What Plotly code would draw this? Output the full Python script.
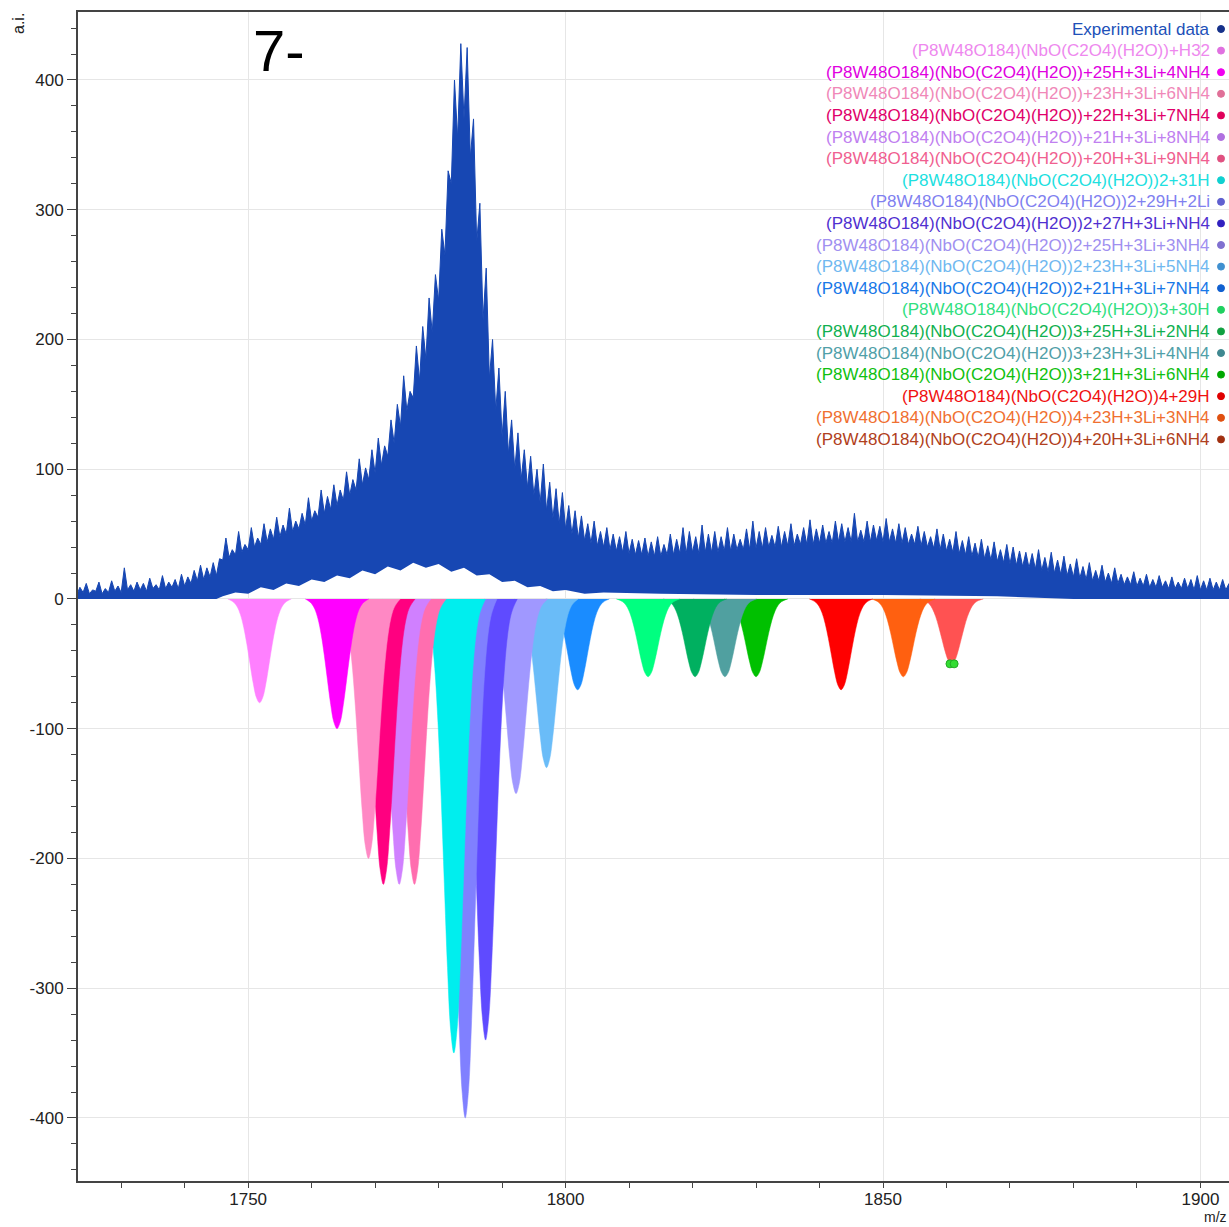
import plotly.graph_objects as go

# ---------------------------------------------------------------------------
# Experimental spectrum (7- charge state), described as a dense band:
# solid body level at integer m/z, spike tops half-way between, and the
# valley floor that the isotope pattern never dips below.
# ---------------------------------------------------------------------------
body_mz = list(range(1723, 1905))
body_ai = [
    3, 5, 4, 6, 4, 5, 6, 5, 7, 6,
    7, 6, 8, 7, 8, 9, 8, 10, 12, 14,
    15, 17, 18, 30, 32, 34, 36, 38, 40, 42,
    44, 46, 48, 50, 52, 54, 57, 60, 63, 66,
    69, 72, 76, 80, 84, 88, 92, 97, 103, 110,
    120, 133, 145, 155, 168, 185, 205, 230, 265, 320,
    355, 370, 340, 275, 215, 170, 145, 125, 112, 100,
    92, 86, 80, 74, 68, 62, 58, 54, 50, 47,
    45, 43, 41, 40, 38, 37, 36, 35, 34, 34,
    33, 33, 33, 34, 34, 35, 35, 36, 35, 36,
    36, 36, 37, 37, 38, 38, 38, 39, 39, 40,
    40, 40, 41, 41, 42, 42, 42, 43, 43, 43,
    44, 44, 44, 44, 44, 44, 45, 44, 44, 43,
    43, 42, 42, 41, 40, 39, 38, 37, 36, 35,
    34, 33, 32, 31, 30, 29, 28, 27, 26, 25,
    24, 23, 22, 21, 20, 19, 18, 17, 16, 15,
    14, 14, 13, 12, 12, 11, 11, 10, 10, 9,
    9, 9, 8, 8, 8, 8, 7, 7, 7, 7,
    7, 7,
]
spike_mz = [m + 0.5 for m in body_mz]
spike_ai = [
    9, 12, 7, 13, 8, 14, 10, 24, 11, 13,
    12, 16, 11, 18, 13, 15, 19, 17, 22, 26,
    24, 28, 31, 47, 38, 52, 42, 55, 47, 58,
    54, 63, 57, 70, 60, 66, 78, 68, 84, 79,
    88, 84, 98, 92, 108, 101, 115, 124, 118, 138,
    150, 172, 160, 195, 210, 232, 250, 285, 330, 400,
    428, 425, 370, 305, 255, 200, 178, 160, 138, 128,
    115, 110, 100, 104, 90, 85, 82, 72, 68, 64,
    58, 60, 52, 55, 50, 48, 52, 46, 45, 47,
    44, 48, 42, 50, 46, 55, 52, 48, 57, 50,
    52, 48, 55, 50, 46, 54, 60, 52, 55, 49,
    56, 52, 58, 50, 55, 61, 54, 57, 52, 60,
    58, 55, 66, 53, 60, 57, 56, 62, 54, 58,
    55, 50, 56, 52, 48, 54, 50, 46, 52, 45,
    48, 43, 46, 41, 44, 38, 42, 40, 37, 36,
    35, 38, 32, 36, 30, 33, 27, 31, 25, 28,
    22, 26, 20, 24, 19, 17, 21, 16, 19, 15,
    18, 14, 17, 13, 16, 15, 18, 14, 16, 13,
    15, 12,
]
valley_mz = [1723, 1745, 1746, 1748, 1750, 1752, 1754, 1756, 1758, 1760,
             1762, 1764, 1766, 1768, 1770, 1772, 1774, 1776, 1778, 1780,
             1782, 1784, 1786, 1788, 1790, 1792, 1794, 1796, 1798, 1800,
             1803, 1806, 1815, 1830, 1850, 1868, 1880, 1905]
valley_ai = [0, 0, 2, 5, 4, 9, 7, 12, 10, 15,
             13, 18, 16, 22, 19, 25, 22, 28, 24, 27,
             21, 24, 18, 19, 13, 14, 9, 10, 6, 7,
             4, 5, 4, 3, 3, 2, 0, 0]

# ---------------------------------------------------------------------------
# Simulated isotope envelopes (plotted downwards)
# ---------------------------------------------------------------------------
species = [
    "(P8W48O184)(NbO(C2O4)(H2O))+H32",
    "(P8W48O184)(NbO(C2O4)(H2O))+25H+3Li+4NH4",
    "(P8W48O184)(NbO(C2O4)(H2O))+23H+3Li+6NH4",
    "(P8W48O184)(NbO(C2O4)(H2O))+22H+3Li+7NH4",
    "(P8W48O184)(NbO(C2O4)(H2O))+21H+3Li+8NH4",
    "(P8W48O184)(NbO(C2O4)(H2O))+20H+3Li+9NH4",
    "(P8W48O184)(NbO(C2O4)(H2O))2+31H",
    "(P8W48O184)(NbO(C2O4)(H2O))2+29H+2Li",
    "(P8W48O184)(NbO(C2O4)(H2O))2+27H+3Li+NH4",
    "(P8W48O184)(NbO(C2O4)(H2O))2+25H+3Li+3NH4",
    "(P8W48O184)(NbO(C2O4)(H2O))2+23H+3Li+5NH4",
    "(P8W48O184)(NbO(C2O4)(H2O))2+21H+3Li+7NH4",
    "(P8W48O184)(NbO(C2O4)(H2O))3+30H",
    "(P8W48O184)(NbO(C2O4)(H2O))3+25H+3Li+2NH4",
    "(P8W48O184)(NbO(C2O4)(H2O))3+23H+3Li+4NH4",
    "(P8W48O184)(NbO(C2O4)(H2O))3+21H+3Li+6NH4",
    "(P8W48O184)(NbO(C2O4)(H2O))4+29H",
    "(P8W48O184)(NbO(C2O4)(H2O))4+23H+3Li+3NH4",
    "(P8W48O184)(NbO(C2O4)(H2O))4+20H+3Li+6NH4",
]
peak_mz = [1751.8, 1764.0, 1768.95, 1771.3, 1773.8, 1776.2, 1782.4, 1784.2,
           1787.4, 1792.2, 1797.0, 1801.9, 1813.0, 1820.4, 1825.1, 1830.0,
           1843.4, 1853.2, 1860.8]
peak_ai = [-80, -100, -200, -220, -220, -220, -350, -400, -340, -150, -130,
           -70, -60, -60, -60, -60, -70, -60, -50]

# relative envelope profile (offset in m/z, fraction of apex)
envelope_offset = [-5, -4.5, -4, -3.5, -3, -2.5, -2, -1.5, -1, -0.5, 0,
                   0.5, 1, 1.5, 2, 2.5, 3, 3.5, 4, 4.5, 5]
envelope_frac = [0, 0.015, 0.036, 0.078, 0.153, 0.272, 0.435, 0.626, 0.812, 0.949, 1,
                 0.949, 0.812, 0.626, 0.435, 0.272, 0.153, 0.078, 0.036, 0.015, 0]

# picked apex markers on the last envelope
marker_mz = [1860.55, 1861.2]
marker_ai = [-50, -50]

# axis ticks
y_ticks = [-400, -300, -200, -100, 0, 100, 200, 300, 400]
x_ticks = [1750, 1800, 1850, 1900]

# colours
exp_color = "#1747B3"
fill_colors = ["#FF80FF", "#FF00FF", "#FF88C4", "#FF0080", "#D080FF", "#FF6EAF",
               "#00EEEE", "#8080FF", "#5F4BFF", "#A098FF", "#6ABCF8", "#1A8CFF",
               "#00FF80", "#00B060", "#50A0A0", "#00C000", "#FF0000", "#FF6010",
               "#FF5252"]
text_colors = ["#EE88EE", "#E000E0", "#F088B8", "#E0006A", "#C080F0", "#F06090",
               "#20E0E0", "#8080F0", "#5030D0", "#A090F0", "#70B8F0", "#1878E8",
               "#30E080", "#10B050", "#50A0A8", "#10C010", "#F01010", "#F07030",
               "#B04020"]
dot_colors = ["#E070E0", "#F000F0", "#E07098", "#E0005A", "#B070E0", "#E05080",
              "#10D0D0", "#6060D0", "#3020C0", "#8070D0", "#4090D0", "#1060D0",
              "#20D060", "#10A040", "#408890", "#00A800", "#E00000", "#E05010",
              "#A03010"]

FONT = "Liberation Sans, Arial, sans-serif"

fig = go.Figure()

# theoretical envelopes: earlier species are drawn last so they sit on top
for i in range(len(species) - 1, -1, -1):
    xs = [peak_mz[i] + o for o in envelope_offset]
    ys = [peak_ai[i] * f for f in envelope_frac]
    fig.add_trace(go.Scatter(
        x=xs, y=ys, mode="lines", line=dict(color=fill_colors[i], width=0.5, shape="spline"),
        fill="tozeroy", fillcolor=fill_colors[i], name=species[i], showlegend=False,
        hoverinfo="skip"))

fig.add_trace(go.Scatter(
    x=marker_mz, y=marker_ai, mode="markers",
    marker=dict(size=8, color="#33DD33", line=dict(color="#22AA22", width=1)),
    showlegend=False, hoverinfo="skip"))

# experimental band: valley floor, then the spiky top filled down to it
upper_x, upper_y = [], []
for bx, by, sx, sy in zip(body_mz, body_ai, spike_mz, spike_ai):
    upper_x += [bx, sx]
    upper_y += [by, sy]

fig.add_trace(go.Scatter(
    x=valley_mz, y=valley_ai, mode="lines", line=dict(color=exp_color, width=0),
    showlegend=False, hoverinfo="skip"))
fig.add_trace(go.Scatter(
    x=upper_x, y=upper_y, mode="lines", line=dict(color=exp_color, width=1),
    fill="tonexty", fillcolor=exp_color, name="Experimental data",
    showlegend=False, hoverinfo="skip"))

# ---------------------------------------------------------------------------
# Layout
# ---------------------------------------------------------------------------
W, H = 1229, 1227
ML, MR, MT, MB = 78, 0, 12, 46
plot_h = H - MT - MB
plot_w = W - ML - MR


def py_to_paper(py):
    return 1 - (py - MT) / plot_h


def px_to_paper(px):
    return (px - ML) / plot_w


annotations = []
shapes = []

legend_labels = ["Experimental data"] + species
legend_text = ["#2050B8"] + text_colors
legend_dot = ["#16318A"] + dot_colors
text_right = px_to_paper(1212)
dot_x = px_to_paper(1221)
for k, (lab, tc, dc) in enumerate(zip(legend_labels, legend_text, legend_dot)):
    yy = py_to_paper(29 + 21.6 * k)
    annotations.append(dict(
        x=text_right, y=yy, xref="paper", yref="paper", xanchor="right", yanchor="middle",
        text=lab, showarrow=False, font=dict(family=FONT, size=17, color=tc)))
    shapes.append(dict(
        type="circle", xref="paper", yref="paper", xsizemode="pixel", ysizemode="pixel",
        xanchor=dot_x, yanchor=yy, x0=-3.5, x1=3.5, y0=-3.5, y1=3.5,
        fillcolor=dc, line=dict(color=dc, width=1)))

annotations.append(dict(
    x=px_to_paper(251), y=py_to_paper(50), xref="paper", yref="paper",
    xanchor="left", yanchor="middle", text="7-", showarrow=False,
    font=dict(family=FONT, size=58, color="#000000")))
annotations.append(dict(
    x=px_to_paper(18), y=py_to_paper(24), xref="paper", yref="paper",
    xanchor="center", yanchor="middle", text="a.i.", textangle=-90, showarrow=False,
    font=dict(family=FONT, size=16, color="#222222")))
annotations.append(dict(
    x=px_to_paper(1228), y=py_to_paper(1226), xref="paper", yref="paper",
    xanchor="right", yanchor="bottom", text="m/z", showarrow=False, borderpad=0,
    font=dict(family=FONT, size=14, color="#222222")))

fig.update_layout(
    width=W, height=H,
    margin=dict(l=ML, r=MR, t=MT, b=MB, pad=0),
    paper_bgcolor="white", plot_bgcolor="white",
    font=dict(family=FONT, size=17, color="#222222"),
    showlegend=False,
    annotations=annotations,
    shapes=shapes,
)

fig.update_xaxes(
    range=[1723.2, 1904.5],
    tickmode="array", tickvals=x_ticks, ticktext=[str(v) for v in x_ticks],
    ticks="outside", ticklen=5, tickwidth=1, tickcolor="#444444",
    ticklabelstandoff=-3,
    minor=dict(tickmode="linear", tick0=1700, dtick=10, ticks="outside",
               ticklen=5, tickcolor="#444444", showgrid=False),
    showgrid=True, gridcolor="#E6E6E6", gridwidth=1,
    showline=True, linecolor="#444444", linewidth=2, mirror=True,
    zeroline=False, tickfont=dict(family=FONT, size=17, color="#222222"),
)
fig.update_yaxes(
    range=[-448.6, 452.4],
    tickmode="array", tickvals=y_ticks, ticktext=[str(v) for v in y_ticks],
    ticks="outside", ticklen=9, tickwidth=1, tickcolor="#444444",
    minor=dict(tickmode="linear", tick0=0, dtick=20, ticks="outside",
               ticklen=5, tickcolor="#444444", showgrid=False),
    showgrid=True, gridcolor="#E6E6E6", gridwidth=1,
    showline=True, linecolor="#444444", linewidth=2,
    zeroline=False, tickfont=dict(family=FONT, size=17, color="#222222"),
)

fig.write_html("out.html")
